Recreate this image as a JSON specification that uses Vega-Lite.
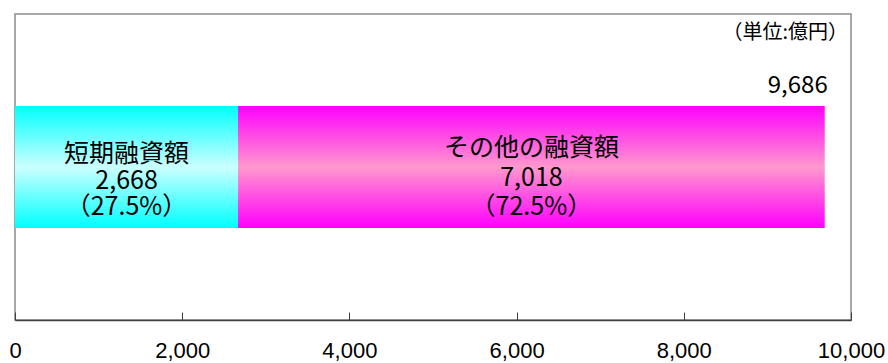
{
  "$schema": "https://vega.github.io/schema/vega-lite/v6.json",
  "width": 836,
  "height": 306,
  "autosize": {"type": "none"},
  "padding": {"left": 15, "top": 14, "right": 37, "bottom": 43},
  "background": "white",
  "config": {
    "view": {"stroke": "#8c8c8c", "strokeWidth": 1.5},
    "font": "Noto Sans CJK JP"
  },
  "title": {
    "text": "（単位:億円）",
    "anchor": "end",
    "frame": "group",
    "orient": "top",
    "offset": -39,
    "dx": -3,
    "baseline": "middle",
    "font": "Noto Sans CJK JP",
    "fontSize": 20,
    "fontWeight": "normal",
    "color": "#000000"
  },
  "data": {
    "values": [
      {"row": "融資額", "name": "短期融資額", "value": 2668, "order": 1},
      {"row": "融資額", "name": "その他の融資額", "value": 7018, "order": 2}
    ]
  },
  "transform": [
    {"joinaggregate": [{"op": "sum", "field": "value", "as": "total"}]},
    {"stack": "value", "groupby": ["row"], "sort": [{"field": "order", "order": "ascending"}], "as": ["x0", "x1"]},
    {"calculate": "(datum.x0 + datum.x1) / 2", "as": "mid"},
    {"calculate": "[datum.name, format(datum.value, ','), '（' + format(datum.value / datum.total * 100, '.1f') + '%）']", "as": "lines"},
    {"calculate": "format(datum.total, ',')", "as": "totalLabel"}
  ],
  "encoding": {
    "y": {"field": "row", "type": "nominal", "axis": null}
  },
  "layer": [
    {
      "transform": [{"filter": "datum.order == 1"}],
      "mark": {
        "type": "bar",
        "size": 122,
        "fill": {
          "gradient": "linear", "x1": 0, "y1": 0, "x2": 0, "y2": 1,
          "stops": [
            {"offset": 0, "color": "#00ffff"},
            {"offset": 0.5, "color": "#ccffff"},
            {"offset": 1, "color": "#00ffff"}
          ]
        }
      },
      "encoding": {
        "x": {
          "field": "x0", "type": "quantitative",
          "scale": {"domain": [0, 10000], "nice": false},
          "axis": {
            "values": [0, 2000, 4000, 6000, 8000, 10000],
            "format": ",d",
            "title": null,
            "grid": false,
            "domainColor": "#404040",
            "domainWidth": 1.5,
            "tickColor": "#404040",
            "tickWidth": 1,
            "tickSize": -8,
            "labelPadding": 28,
            "labelFont": "Liberation Sans",
            "labelFontSize": 22,
            "labelColor": "#000000",
            "labelFlush": false,
            "labelOverlap": false
          }
        },
        "x2": {"field": "x1"}
      }
    },
    {
      "transform": [{"filter": "datum.order == 2"}],
      "mark": {
        "type": "bar",
        "size": 122,
        "fill": {
          "gradient": "linear", "x1": 0, "y1": 0, "x2": 0, "y2": 1,
          "stops": [
            {"offset": 0, "color": "#ff00ff"},
            {"offset": 0.5, "color": "#ff99cc"},
            {"offset": 1, "color": "#ff00ff"}
          ]
        }
      },
      "encoding": {
        "x": {"field": "x0", "type": "quantitative"},
        "x2": {"field": "x1"}
      }
    },
    {
      "transform": [{"filter": "datum.order == 1"}],
      "mark": {"type": "text", "fontSize": 25, "lineHeight": 26.5, "baseline": "middle", "align": "center", "dy": -13, "color": "#000000"},
      "encoding": {
        "x": {"field": "mid", "type": "quantitative"},
        "text": {"field": "lines"}
      }
    },
    {
      "transform": [{"filter": "datum.order == 2"}],
      "mark": {"type": "text", "fontSize": 25, "lineHeight": 29.5, "baseline": "middle", "align": "center", "dy": -19, "color": "#000000"},
      "encoding": {
        "x": {"field": "mid", "type": "quantitative"},
        "text": {"field": "lines"}
      }
    },
    {
      "transform": [{"filter": "datum.order == 2"}],
      "mark": {"type": "text", "fontSize": 24, "baseline": "middle", "align": "right", "dx": 3, "dy": -81, "color": "#000000"},
      "encoding": {
        "x": {"field": "x1", "type": "quantitative"},
        "text": {"field": "totalLabel"}
      }
    }
  ]
}
